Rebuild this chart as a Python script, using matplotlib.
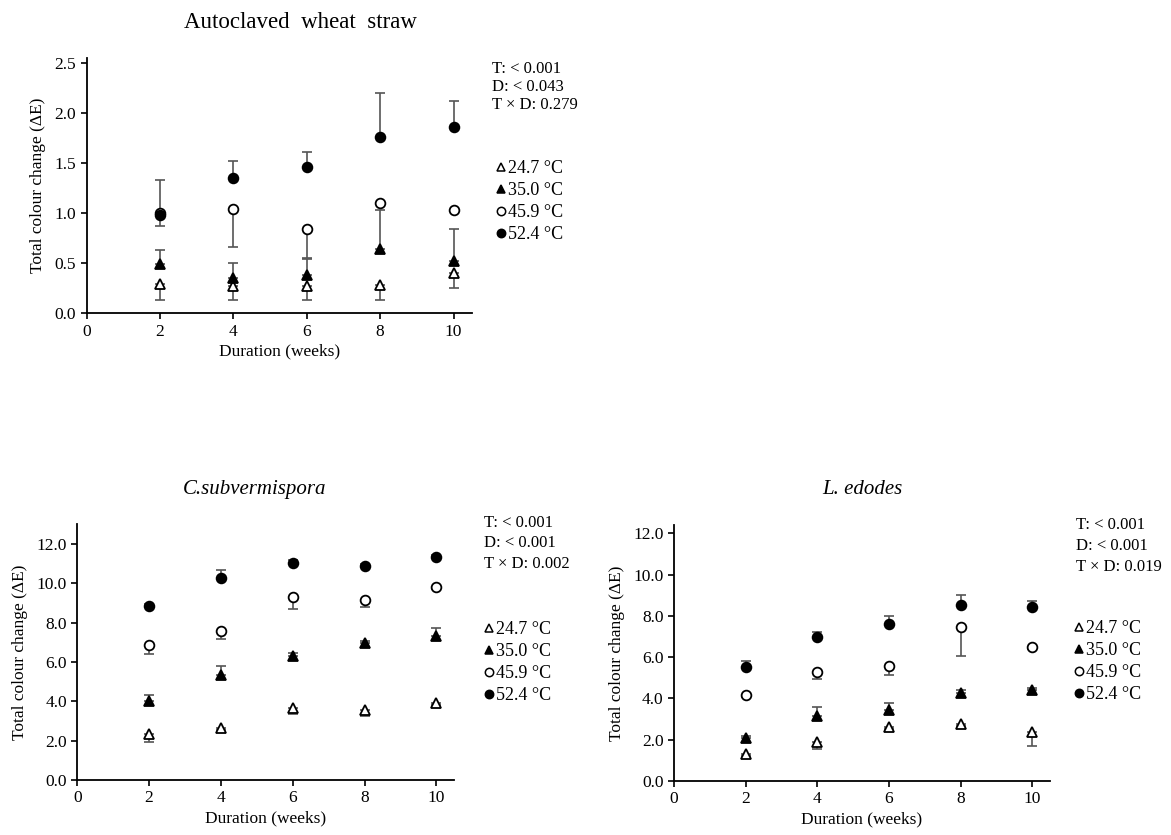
import numpy as np
import matplotlib
matplotlib.use('Agg')
import matplotlib.pyplot as plt
from matplotlib.lines import Line2D

plt.rcParams['font.family'] = ['Liberation Serif', 'DejaVu Serif']
plt.rcParams['font.size'] = 12

weeks = [2, 4, 6, 8, 10]
temps = ['24.7 °C', '35.0 °C', '45.9 °C', '52.4 °C']

# 오토클레이브 밀짚
straw_vals = [[0.29, 0.27, 0.27, 0.285, 0.40],
              [0.49, 0.35, 0.38, 0.64, 0.52],
              [1.00, 1.04, 0.84, 1.10, 1.03],
              [0.98, 1.35, 1.46, 1.76, 1.86]]
straw_err = [[0.16, 0.14, 0.14, 0.155, 0.15],
             [0.14, 0.15, 0.16, 0.39, 0.32],
             [0.13, 0.38, 0.29, 0.0, 0.0],
             [0.35, 0.17, 0.15, 0.44, 0.26]]

# C. subvermispora
cs_vals = [[2.31, 2.65, 3.67, 3.55, 3.89],
           [4.00, 5.32, 6.30, 6.96, 7.31],
           [6.84, 7.57, 9.31, 9.14, 9.83],
           [8.85, 10.25, 11.06, 10.90, 11.32]]
cs_err = [[0.40, 0.10, 0.34, 0.32, 0.10],
          [0.31, 0.47, 0.15, 0.10, 0.44],
          [0.42, 0.42, 0.63, 0.32, 0.10],
          [0.10, 0.44, 0.15, 0.10, 0.10]]

# L. edodes
le_vals = [[1.28, 1.90, 2.63, 2.77, 2.35],
           [2.06, 3.16, 3.44, 4.25, 4.39],
           [4.17, 5.30, 5.58, 7.44, 6.47],
           [5.53, 6.97, 7.62, 8.55, 8.43]]
le_err = [[0.10, 0.38, 0.10, 0.10, 0.66],
          [0.10, 0.44, 0.34, 0.16, 0.12],
          [0.10, 0.35, 0.46, 1.41, 0.10],
          [0.26, 0.23, 0.36, 0.45, 0.28]]

straw_stats = ['T: < 0.001', 'D: < 0.043', 'T × D: 0.279']
cs_stats = ['T: < 0.001', 'D: < 0.001', 'T × D: 0.002']
le_stats = ['T: < 0.001', 'D: < 0.001', 'T × D: 0.019']

markers = ['^', '^', 'o', 'o']
faces = ['white', 'black', 'white', 'black']
err_down = [True, False, True, False]  # 아래쪽 오차막대 여부

W, H = 1171, 835


def draw_panel(ax, vals, errs, ymax, yticks):
    for i in range(4):
        v = np.array(vals[i])
        e = np.array(errs[i])
        z = np.zeros_like(e)
        yerr = [e, z] if err_down[i] else [z, e]
        ax.errorbar(weeks, v, yerr=yerr, fmt='none', ecolor='#555555',
                    elinewidth=1.2, capsize=3.5, capthick=1.2, zorder=2)
        ax.plot(weeks, v, linestyle='none', marker=markers[i], ms=7,
                mfc=faces[i], mec='black', mew=1.3, zorder=3, label=temps[i])
    ax.set_xlim(0, 10.5)
    ax.set_ylim(0, ymax)
    ax.set_xticks([0, 2, 4, 6, 8, 10])
    ax.set_yticks(yticks)
    ax.set_yticklabels(['%.1f' % t for t in yticks])
    ax.spines['top'].set_visible(False)
    ax.spines['right'].set_visible(False)
    ax.spines['left'].set_linewidth(1.3)
    ax.spines['bottom'].set_linewidth(1.3)
    ax.tick_params(direction='out', length=4, width=1.2, labelsize=12.5)
    ax.set_xlabel('Duration (weeks)', fontsize=12.5, labelpad=3)
    ax.set_ylabel('Total colour change (ΔE)', fontsize=12.5, labelpad=6)


def add_side(fig, stats, x, ys, legx, legtop, spacing):
    # 통계 텍스트(픽셀 좌표 -> figure 비율)
    for s, y in zip(stats, ys):
        fig.text(x / W, 1 - y / H, s, fontsize=12, va='center')
    handles = [Line2D([], [], linestyle='none', marker=markers[i], ms=6,
                      mfc=faces[i], mec='black', mew=1.1) for i in range(4)]
    fig.legend(handles, temps, loc='upper left',
               bbox_to_anchor=(legx / W, 1 - legtop / H),
               frameon=False, handlelength=0.5, handletextpad=0.15,
               labelspacing=spacing, fontsize=13, borderaxespad=0, borderpad=0)


fig = plt.figure(figsize=(W / 100, H / 100), dpi=100)

ax1 = fig.add_axes([0.074, 0.625, 0.329, 0.305])
draw_panel(ax1, straw_vals, straw_err, 2.55, [0, 0.5, 1.0, 1.5, 2.0, 2.5])
fig.text(300 / W, 1 - 22 / H, 'Autoclaved  wheat  straw', fontsize=16.5,
         ha='center', va='center')
add_side(fig, straw_stats, 492, [69, 87, 105], 496, 160, 0.28)

ax2 = fig.add_axes([0.066, 0.066, 0.322, 0.306])
draw_panel(ax2, cs_vals, cs_err, 13, [0, 2, 4, 6, 8, 10, 12])
fig.text(255 / W, 1 - 490 / H, 'C.subvermispora', fontsize=15,
         style='italic', ha='center', va='center')
add_side(fig, cs_stats, 484, [523, 543, 564], 484, 621, 0.28)

ax3 = fig.add_axes([0.5756, 0.065, 0.3211, 0.306])
draw_panel(ax3, le_vals, le_err, 12.4, [0, 2, 4, 6, 8, 10, 12])
fig.text(862 / W, 1 - 490 / H, 'L. edodes', fontsize=15,
         style='italic', ha='center', va='center')
add_side(fig, le_stats, 1076, [525, 546, 567], 1074, 620, 0.28)

fig.savefig('out.png', dpi=100)
